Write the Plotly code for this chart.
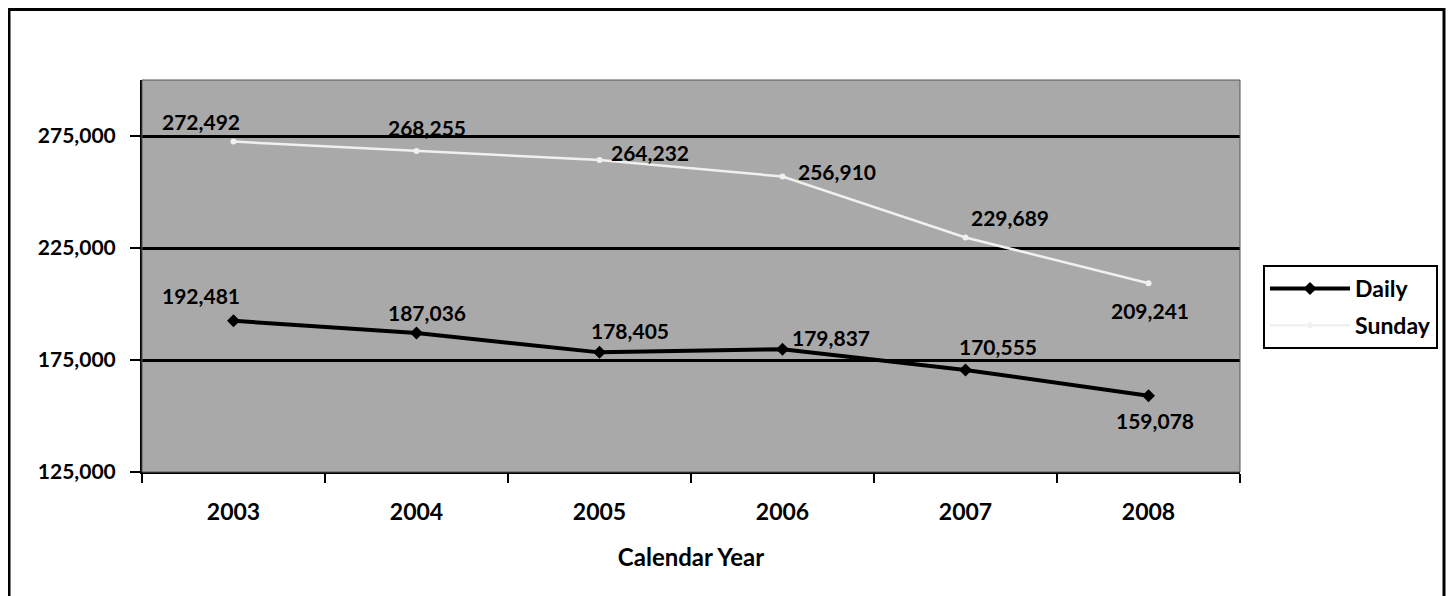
import plotly.graph_objects as go

years = ["2003", "2004", "2005", "2006", "2007", "2008"]
daily = [192481, 187036, 178405, 179837, 170555, 159078]
sunday = [272492, 268255, 264232, 256910, 229689, 209241]
y_ticks = [125000, 175000, 225000, 275000]
y_tick_text = ["125,000", "175,000", "225,000", "275,000"]

# label offsets (px) for the data labels
daily_off = [(-33, 25), (10, 21), (30, 22), (48, 12), (32, 23), (6, -25)]
sunday_off = [(-33, 20), (10, 24), (50, 8), (54, 5), (44, 20), (1, -27)]

FONT = "Lato"
W, H = 1447, 588          # page shows the figure offset by the 8px body margin
L, T = 134, 72            # plot area left / top inside the figure
PW, PH = 1098, 392        # plot area size

fig = go.Figure()
fig.add_trace(go.Scatter(
    x=years, y=daily, name="Daily", mode="lines+markers",
    line=dict(color="black", width=4),
    marker=dict(symbol="diamond", size=10, color="black"),
    legendgroup="a",
))
fig.add_trace(go.Scatter(
    x=years, y=sunday, name="Sunday", mode="lines+markers",
    line=dict(color="#f0f0f0", width=2.5),
    marker=dict(symbol="circle", size=6, color="#f0f0f0"),
    legendgroup="b",
))

annotations = []
for vals, offs in ((daily, daily_off), (sunday, sunday_off)):
    for i, (v, (dx, dy)) in enumerate(zip(vals, offs)):
        annotations.append(dict(
            x=i, y=v, xref="x", yref="y", text=f"{v:,}", showarrow=False,
            xshift=dx, yshift=dy,
            font=dict(family=FONT, size=21, color="black", weight="bold"),
        ))

fig.update_layout(
    width=W, height=H,
    margin=dict(l=L, r=W - L - PW, t=T, b=H - T - PH),
    paper_bgcolor="white",
    plot_bgcolor="#a9a9a9",
    showlegend=True,
    legend=dict(
        x=(1255 - L) / PW, xanchor="left", y=(T + PH - 257) / PH, yanchor="top",
        bordercolor="black", borderwidth=2, bgcolor="white",
        font=dict(family=FONT, size=23, color="black", weight="bold"),
        tracegroupgap=4, itemwidth=80,
    ),
    annotations=annotations,
    xaxis=dict(
        type="category", tickson="boundaries", ticks="outside", ticklen=9,
        tickwidth=2, tickcolor="black", showline=True, linecolor="black",
        linewidth=2, showgrid=False, ticklabelstandoff=18,
        tickfont=dict(family=FONT, size=23, color="black", weight="bold"),
        title=dict(text="Calendar Year", standoff=26,
                   font=dict(family=FONT, size=24, color="black", weight="bold")),
        range=[-0.5, 5.5],
    ),
    yaxis=dict(
        range=[125000, 300000], tickvals=y_ticks, ticktext=y_tick_text,
        ticks="outside", ticklen=10, tickwidth=2, tickcolor="black",
        showline=True, linecolor="black", linewidth=2,
        showgrid=True, gridcolor="black", gridwidth=2.5,
        zeroline=False, ticklabelstandoff=10,
        tickfont=dict(family=FONT, size=21, color="black", weight="bold"),
    ),
    shapes=[
        dict(type="rect", xref="paper", yref="paper", x0=0, x1=1, y0=0, y1=1,
             line=dict(color="#555555", width=1), layer="above"),
        dict(type="rect", xref="paper", yref="paper",
             x0=(1 - L) / PW, x1=(1436 - L) / PW,
             y0=(T + PH - 600) / PH, y1=(T + PH - 1.5) / PH,
             line=dict(color="black", width=3), layer="above"),
    ],
)

fig.write_html("out.html")
